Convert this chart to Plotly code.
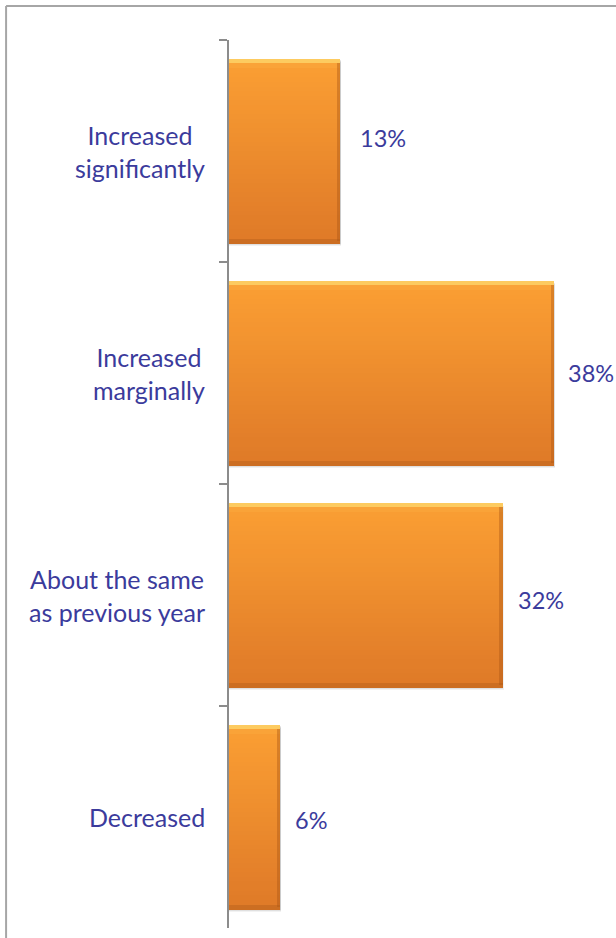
import plotly.graph_objects as go

# Survey responses (share of respondents, %)
categories = ["Increased significantly", "Increased marginally",
              "About the same as previous year", "Decreased"]
category_labels = ["Increased<br>significantly", "Increased<br>marginally",
                   "About the same<br>as previous year", "Decreased"]
values = [13, 38, 32, 6]
value_labels = ["13%", "38%", "32%", "6%"]

# per-label nudges for the value text (pixels)
label_dx = [18, 12, 13, 13]
label_dy = [13, 0, -5, -3]

TEXT_COLOR = "#3B3B9C"
AXIS_COLOR = "#8C8C8C"
FONT = "Lato, 'Open Sans', sans-serif"
FONT_SIZE = 25
VALUE_FONT_SIZE = 23.5
BAR_W = 0.83          # bar thickness in category units
N_STRIPS = 40         # vertical gradient resolution


def hex_rgb(h):
    h = h.lstrip("#")
    return tuple(int(h[i:i + 2], 16) for i in (0, 2, 4))


def mix(c1, c2, t):
    a, b = hex_rgb(c1), hex_rgb(c2)
    return "rgb(%d,%d,%d)" % tuple(round(a[i] + (b[i] - a[i]) * t) for i in range(3))


def strip_color(t):
    # bevelled orange: bright rim on top, darker rim at the bottom
    if t < 0.018:
        return "#FDCB60"
    if t < 0.04:
        return mix("#FDCB60", "#FA9E33", (t - 0.018) / 0.022)
    if t > 0.98:
        return "#CC6E22"
    return mix("#FA9E33", "#DF7A28", (t - 0.04) / 0.94)


fig = go.Figure()

# soft drop shadow beneath each bar
for k, alpha in enumerate([0.05, 0.07, 0.09]):
    s = (3 - k) * 0.0045
    fig.add_trace(go.Bar(
        y=categories, x=[v + s * 8 for v in values], orientation="h",
        offset=-BAR_W / 2 + s, width=BAR_W,
        marker=dict(color="rgba(0,0,0,%.2f)" % alpha, line=dict(width=0)),
        hoverinfo="skip", showlegend=False))

# gradient body, built from thin horizontal strips
dh = BAR_W / N_STRIPS
for k in range(N_STRIPS):
    t = (k + 0.5) / N_STRIPS
    fig.add_trace(go.Bar(
        y=categories, x=values, orientation="h",
        offset=-BAR_W / 2 + k * dh, width=dh * 1.08,
        marker=dict(color=strip_color(t), line=dict(width=0)),
        hoverinfo="skip", showlegend=False))

# darker right-hand rim of each bar
fig.add_trace(go.Bar(
    y=categories, x=[0.4] * len(values), base=[v - 0.4 for v in values],
    orientation="h", offset=-BAR_W / 2 + 0.02, width=BAR_W - 0.03,
    marker=dict(color="rgba(170,85,20,0.40)", line=dict(width=0)),
    hoverinfo="skip", showlegend=False))

# value labels
for cat, v, lab, dx, dy in zip(categories, values, value_labels, label_dx, label_dy):
    fig.add_annotation(x=v, y=cat, xref="x", yref="y", text=lab,
                       xanchor="left", yanchor="middle", xshift=dx, yshift=dy,
                       showarrow=False,
                       font=dict(family=FONT, size=VALUE_FONT_SIZE, color=TEXT_COLOR))

# category labels, centred line by line, left of the axis
for cat, lab in zip(categories, category_labels):
    fig.add_annotation(x=0, y=cat, xref="paper", yref="y", text=lab,
                       xanchor="right", yanchor="middle", xshift=-22,
                       align="center", showarrow=False,
                       font=dict(family=FONT, size=FONT_SIZE, color=TEXT_COLOR))

# chart frame
fig.add_shape(type="line", xref="paper", yref="paper",
              x0=-0.579, x1=1.2, y0=1.0383, y1=1.0383,
              line=dict(color="#A6A6A6", width=2))
fig.add_shape(type="line", xref="paper", yref="paper",
              x0=-0.579, x1=-0.579, y0=1.0383, y1=-0.2,
              line=dict(color="#A6A6A6", width=2))

fig.update_layout(
    width=616, height=938,
    margin=dict(l=229, r=2, t=40, b=10),
    barmode="overlay", bargap=0,
    plot_bgcolor="white", paper_bgcolor="white",
    showlegend=False,
    xaxis=dict(range=[0, 45], visible=False, showgrid=False, zeroline=False),
    yaxis=dict(type="category", categoryorder="array", categoryarray=categories,
               range=[3.5, -0.5], showticklabels=False, showgrid=False,
               zeroline=False, showline=True, linecolor=AXIS_COLOR, linewidth=1.5,
               ticks="outside", tickson="boundaries", ticklen=8,
               tickcolor=AXIS_COLOR, tickwidth=1.5),
)

fig.write_html("out.html")
